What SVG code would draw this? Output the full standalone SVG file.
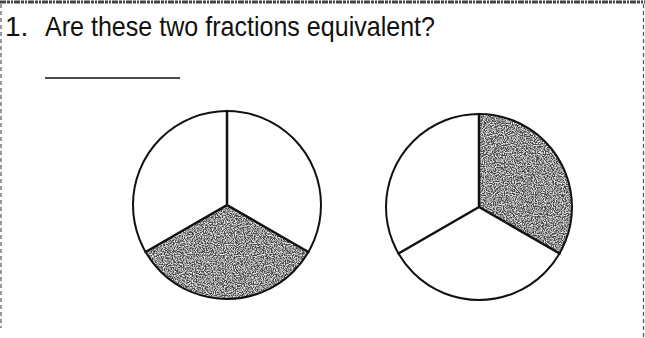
<svg xmlns="http://www.w3.org/2000/svg" width="645" height="338" viewBox="0 0 645 338">
  <style>
    .q { font-family: "Liberation Sans", Arial, sans-serif; font-size: 28px; fill: #111; }
    .outline { fill: none; stroke: #111; stroke-width: 2; }
    .spoke { fill: none; stroke: #111; stroke-width: 2.5; stroke-linecap: round; }
    .shade { fill: #4a4a4a; filter: url(#speckle); }
    .border { fill: none; stroke: #555; stroke-width: 1.2; stroke-dasharray: 4 3; }
  </style>
  <defs>
    <filter id="speckle" x="0" y="0" width="100%" height="100%">
      <feTurbulence type="fractalNoise" baseFrequency="0.9" numOctaves="2" seed="3" result="n"/>
      <feColorMatrix in="n" type="matrix" values="0 0 0 0 0  0 0 0 0 0  0 0 0 0 0  0 0 0 -2.4 1.45" result="dots"/>
      <feFlood flood-color="#ffffff" result="w"/>
      <feComposite in="w" in2="dots" operator="in" result="wd"/>
      <feComposite in="wd" in2="SourceGraphic" operator="in" result="wclip"/>
      <feMerge>
        <feMergeNode in="SourceGraphic"/>
        <feMergeNode in="wclip"/>
      </feMerge>
    </filter>
  </defs>
  <rect x="0" y="0" width="645" height="338" fill="#ffffff"/>
  <g id="frame">
    <line x1="0" y1="2" x2="645" y2="2" stroke="#444" stroke-width="3" stroke-dasharray="6 1 3 1 2 1"/>
    <line class="border" x1="1" y1="4" x2="1" y2="328"/>
    <line class="border" x1="643.5" y1="4" x2="643.5" y2="338"/>
  </g>
  <g id="question">
    <text class="q" x="5" y="36">1.</text>
    <text class="q" x="45" y="36" textLength="390" lengthAdjust="spacingAndGlyphs">Are these two fractions equivalent?</text>
    <line x1="45" y1="78" x2="180" y2="78" stroke="#111" stroke-width="1.4"/>
  </g>
  <g id="circle-left">
    <path class="shade" d="M227 205 L308.4 252 A94 94 0 0 1 145.6 252 Z"/>
    <circle class="outline" cx="227" cy="205" r="94"/>
    <path class="spoke" d="M227 111 L227 205 M227 205 L308.4 252 M227 205 L145.6 252"/>
  </g>
  <g id="circle-right">
    <path class="shade" d="M479 207 L479 114 A93 93 0 0 1 559.5 253.5 Z"/>
    <circle class="outline" cx="479" cy="207" r="93"/>
    <path class="spoke" d="M479 114 L479 207 M479 207 L559.5 253.5 M479 207 L398.5 253.5"/>
  </g>
</svg>
